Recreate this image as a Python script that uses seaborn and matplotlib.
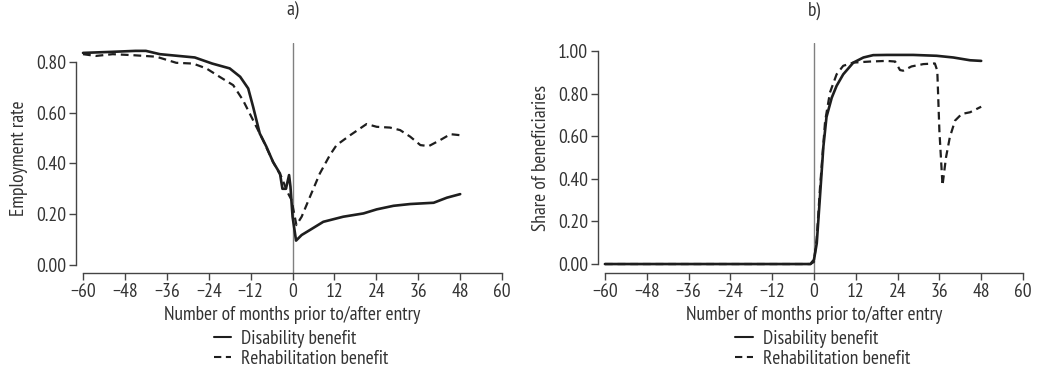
import numpy as np
import pandas as pd
import matplotlib
matplotlib.use("Agg")
import matplotlib.pyplot as plt
import seaborn as sns

# a) employment rate
emp_dis_m = [-60, -52, -45, -42, -38, -28, -23, -18, -15, -12.7, -11.3, -9.4, -7.5, -5.6, -3.6,
             -2.9, -1.9, -1, -0.6, 0, 1, 2.6, 5, 8.8, 14.5, 20.3, 24.1, 28.9, 33.7, 40.4, 44.2, 48]
emp_dis = [0.835, 0.839, 0.843, 0.843, 0.830, 0.817, 0.793, 0.774, 0.741, 0.695, 0.623, 0.518,
           0.466, 0.406, 0.360, 0.300, 0.300, 0.354, 0.308, 0.190, 0.096, 0.118, 0.138, 0.170,
           0.190, 0.203, 0.219, 0.233, 0.240, 0.245, 0.265, 0.279]
emp_reh_m = [-60, -56.3, -51.5, -45.7, -39, -33.3, -28.5, -24.7, -20.9, -17, -14.2, -11.3, -8.4,
             -5.6, -3.2, -1.5, -0.3, 1.1, 2.6, 5, 7.8, 10.7, 12.6, 16.5, 21.2, 24.1, 27.9, 30.8,
             33.7, 36.6, 39, 42.3, 45.2, 48]
emp_reh = [0.830, 0.823, 0.830, 0.826, 0.820, 0.796, 0.793, 0.774, 0.741, 0.708, 0.649, 0.570,
           0.490, 0.406, 0.347, 0.288, 0.256, 0.157, 0.190, 0.269, 0.360, 0.433, 0.472, 0.511,
           0.555, 0.544, 0.541, 0.531, 0.505, 0.472, 0.468, 0.492, 0.515, 0.511]

# b) share of beneficiaries
ben_dis_m = [-60, -1, 0, 0.8, 1.7, 2.7, 3.6, 5.1, 6.5, 8.4, 11.3, 14.2, 17, 20.9, 28.5, 35.2,
             40, 44.8, 48]
ben_dis = [0.0, 0.0, 0.02, 0.097, 0.31, 0.55, 0.69, 0.78, 0.836, 0.89, 0.945, 0.969, 0.98,
           0.981, 0.981, 0.977, 0.969, 0.956, 0.953]
ben_reh_m = [-60, -1, 0, 0.8, 1.7, 3.2, 4.6, 6.5, 8.4, 11.3, 16.1, 20.9, 23.3, 24.7, 25.6, 28,
             31.4, 34.7, 35.4, 36, 36.9, 37.9, 39, 40.5, 42.4, 44.8, 48]
ben_reh = [0.0, 0.0, 0.01, 0.12, 0.35, 0.67, 0.805, 0.89, 0.93, 0.945, 0.95, 0.953, 0.95, 0.91,
           0.907, 0.927, 0.938, 0.941, 0.907, 0.626, 0.369, 0.50, 0.595, 0.673, 0.704, 0.712,
           0.738]

labels = ["Disability benefit", "Rehabilitation benefit"]
xticks = [-60, -48, -36, -24, -12, 0, 12, 24, 36, 48, 60]


def frame(m1, v1, m2, v2):
    return pd.concat([
        pd.DataFrame({"month": m1, "value": v1, "benefit": labels[0]}),
        pd.DataFrame({"month": m2, "value": v2, "benefit": labels[1]}),
    ])


sns.set_theme(style="white")
plt.rcParams["font.family"] = ["PT Sans Narrow", "Roboto Condensed", "DejaVu Sans"]
plt.rcParams["axes.unicode_minus"] = True

ink = "#1e1e1e"
grey = "#333333"
fs = 14
fig = plt.figure(figsize=(10.43, 3.7), dpi=100)
ax1 = fig.add_axes([0.0729, 0.2622, 0.4152, 0.6216])
ax2 = fig.add_axes([0.5733, 0.2622, 0.4142, 0.6216])

panels = [
    (ax1, frame(emp_dis_m, emp_dis, emp_reh_m, emp_reh), "a)", "Employment rate",
     (-0.0315, 0.874), [0, 0.2, 0.4, 0.6, 0.8]),
    (ax2, frame(ben_dis_m, ben_dis, ben_reh_m, ben_reh), "b)", "Share of beneficiaries",
     (-0.042, 1.037), [0, 0.2, 0.4, 0.6, 0.8, 1.0]),
]

for ax, df, title, ylab, ylim, yticks in panels:
    ax.axvline(0, color="#808080", lw=1.0, zorder=1)
    sns.lineplot(data=df, x="month", y="value", style="benefit", color=ink,
                 dashes={labels[0]: "", labels[1]: (3.5, 2.2)}, sort=False,
                 estimator=None, ax=ax, zorder=3)
    for ln, lw in zip(ax.get_lines()[1:], [1.9, 1.6]):
        ln.set_linewidth(lw)
    ax.set_xlim(-62, 62)
    ax.set_ylim(*ylim)
    ax.set_xticks(xticks)
    ax.set_yticks(yticks)
    ax.set_yticklabels([f"{t:.2f}" for t in yticks])
    ax.set_xticklabels([f"\u2212{abs(t)}" if t < 0 else str(t) for t in xticks])
    for s in ["top", "right"]:
        ax.spines[s].set_visible(False)
    ax.spines["left"].set_bounds(0, yticks[-1])
    ax.spines["bottom"].set_bounds(-60, 60)
    for s in ["left", "bottom"]:
        ax.spines[s].set_color("#444444")
        ax.spines[s].set_linewidth(1.0)
    ax.tick_params(axis="both", which="both", direction="out", length=5, width=1,
                   color="#444444", labelsize=fs, labelcolor=grey, pad=2,
                   bottom=True, left=True)
    ax.set_xlabel("Number of months prior to/after entry", fontsize=fs, color=grey,
                  labelpad=4)
    ax.set_ylabel(ylab, fontsize=fs, color=grey, labelpad=6)
    ax.set_title(title, fontsize=fs, color=grey, pad=20)
    ax.legend(title=None, loc="upper center", bbox_to_anchor=(0.52, -0.205), frameon=False,
              fontsize=fs, handlelength=0.9, handletextpad=0.5, labelspacing=0.1,
              labelcolor=grey, borderpad=0)

fig.savefig("out.png", dpi=100)
